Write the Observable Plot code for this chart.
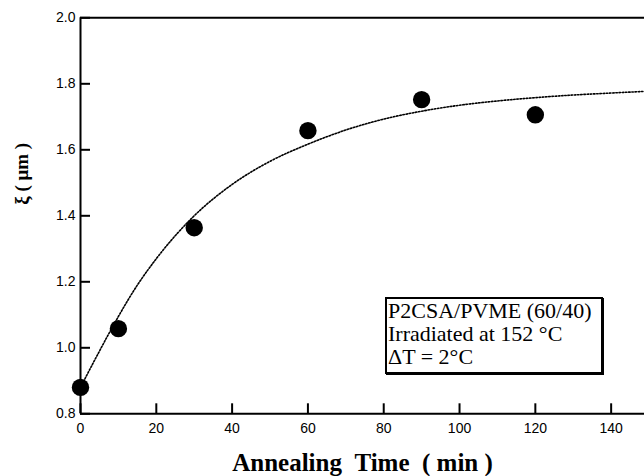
<!DOCTYPE html>
<html>
<head>
<meta charset="utf-8">
<script src="https://cdn.jsdelivr.net/npm/d3@7"></script>
<script src="https://cdn.jsdelivr.net/npm/@observablehq/plot@0.6"></script>
<style>
  html, body { margin: 0; padding: 0; background: #fff; }
  #wrap { position: relative; width: 644px; height: 476px; overflow: hidden; }
  #note {
    position: absolute; left: 385px; top: 297px; width: 213px; height: 73px;
    border: 2px solid #000; box-shadow: 1px 1px 0 #000; background: #fff;
    font-family: "Liberation Serif", "Times New Roman", serif; font-size: 22px;
    line-height: 23px; padding-left: 1px; box-sizing: content-box; white-space: nowrap;
  }
</style>
</head>
<body>
<div id="wrap"></div>
<script>
// Measured points
const times = [0, 10, 30, 60, 90, 120];
const xi = [0.88, 1.058, 1.364, 1.658, 1.752, 1.706];

// Dotted fitted curve
const curveT = [0, 5, 10, 15, 20, 30, 40, 50, 60, 70, 80, 90, 100, 110, 120, 130, 140, 148.8];
const curveXi = [0.88, 0.99, 1.095, 1.19, 1.27, 1.40, 1.495, 1.565, 1.617, 1.66, 1.693, 1.717, 1.735, 1.748, 1.758, 1.766, 1.772, 1.777];

const xTicks = [0, 20, 40, 60, 80, 100, 120, 140];
const yTicks = [0.8, 1.0, 1.2, 1.4, 1.6, 1.8, 2.0];
const xDomain = [0, 148.8];
const yDomain = [0.8, 2.0];

const xLabel = "Annealing\u2002Time\u2002( min )";
const yLabel = "\u03BE ( \u03BCm )";
const noteLines = ["P2CSA/PVME (60/40)", "Irradiated at 152 \u00B0C", "\u0394T = 2\u00B0C"];

const points = times.map((t, i) => ({t, v: xi[i]}));
const curve = curveT.map((t, i) => ({t, v: curveXi[i]}));

const W = 644, H = 476, mL = 80, mR = 0, mT = 17.3, mB = 62.7;
const innerW = W - mL - mR, innerH = H - mT - mB;
const tickLen = 10;
// tick length expressed in data units (derived from layout)
const xTickData = tickLen * (xDomain[1] - xDomain[0]) / innerW;
const yTickData = tickLen * (yDomain[1] - yDomain[0]) / innerH;
const sans = "'Liberation Sans', Arial, Helvetica, sans-serif";
const serif = "'Liberation Serif', 'Times New Roman', serif";

const chart = Plot.plot({
  width: W, height: H,
  marginLeft: mL, marginRight: mR, marginTop: mT, marginBottom: mB,
  style: {background: "#fff", color: "#000", overflow: "visible"},
  x: {domain: xDomain},
  y: {domain: yDomain},
  marks: [
    // tick labels
    Plot.axisY({ticks: yTicks, tickSize: 0, tickPadding: 5, tickFormat: d3.format(".1f"), label: null,
      fontSize: 14, fontFamily: sans}),
    Plot.axisX({ticks: xTicks, tickSize: 0, tickPadding: 9, tickFormat: d => String(d), label: null,
      fontSize: 14, fontFamily: sans}),
    // frame lines
    Plot.ruleY([yDomain[1]], {stroke: "#000", strokeWidth: 2}),
    Plot.ruleY([yDomain[0]], {stroke: "#000", strokeWidth: 2}),
    Plot.ruleX([xDomain[0]], {stroke: "#000", strokeWidth: 2}),
    // inward ticks
    Plot.ruleY(yTicks, {y: d => d, x1: () => xDomain[0], x2: () => xDomain[0] + xTickData,
      stroke: "#000", strokeWidth: 2}),
    Plot.ruleX(xTicks, {x: d => d, y1: () => yDomain[0], y2: () => yDomain[0] + yTickData,
      stroke: "#000", strokeWidth: 2}),
    // dotted curve
    Plot.line(curve, {x: "t", y: "v", curve: "monotone-x", stroke: "#000", strokeWidth: 1.6,
      strokeDasharray: "1.5,1.7"}),
    // data points
    Plot.dot(points, {x: "t", y: "v", r: 8.7, fill: "#000", stroke: "none"}),
    // axis titles
    Plot.text([xLabel], {text: d => d, frameAnchor: "bottom", lineAnchor: "middle", dy: 49,
      fontSize: 25, fontWeight: "bold", fontFamily: serif, fill: "#000"}),
    Plot.text([yLabel], {text: d => d, frameAnchor: "left", lineAnchor: "middle", rotate: -90,
      dx: -59, dy: -11, fontSize: 19, fontWeight: "bold", fontFamily: serif, fill: "#000"})
  ]
});

const wrap = document.getElementById("wrap");
wrap.appendChild(chart);
const note = document.createElement("div");
note.id = "note";
note.innerHTML = noteLines.map(s => `<div>${s}</div>`).join("");
wrap.appendChild(note);
</script>
</body>
</html>
